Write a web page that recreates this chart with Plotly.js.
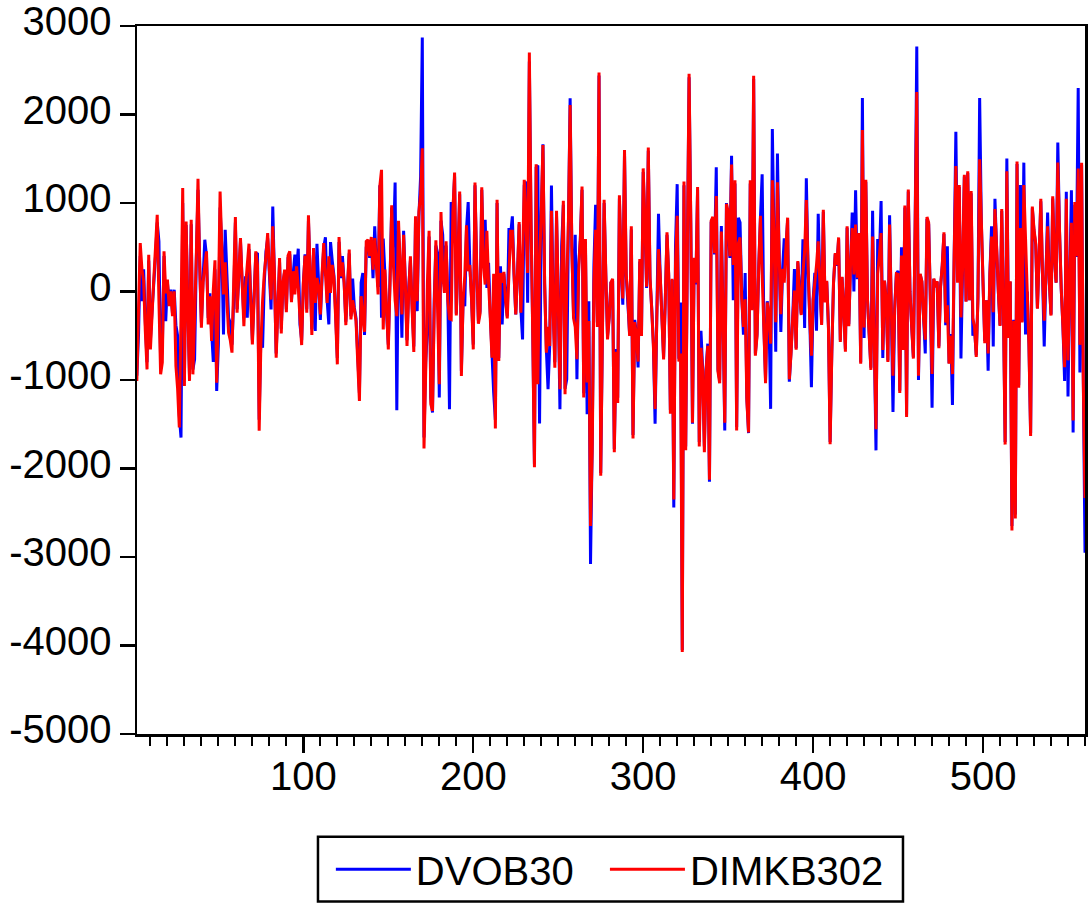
<!DOCTYPE html>
<html>
<head>
<meta charset="utf-8">
<script src="https://cdn.plot.ly/plotly-3.0.1.min.js"></script>
<style>html,body{margin:0;padding:0;background:#fff;overflow:hidden}</style>
</head>
<body>
<div id="chart" style="width:1089px;height:906px"></div>
<script>
const seriesNames = ["DVOB30", "DIMKB302"];
const seriesColors = ["#0000ff", "#ff0000"];
const yTicks = [3000, 2000, 1000, 0, -1000, -2000, -3000, -4000, -5000];

const dvob30 = [
-300,-950,-485,400,-109,250,-350,-800,350,-550,
-200,100,400,780,567,-800,-650,400,-335,100,
-120,20,-250,20,-380,-500,-1400,-1650,1000,-1000,
750,-150,-950,760,-880,-766,350,1150,300,-350,
150,585,400,-300,-20,-450,-797,250,-1123,-600,
950,500,-485,698,200,-300,-353,-600,-100,780,
-200,150,570,100,-300,172,-297,480,-50,-550,
-50,420,435,-1450,-500,-635,100,450,600,200,
-203,961,150,-700,-150,330,-420,80,230,-200,
380,420,-100,200,416,250,484,-372,-550,80,
420,-200,800,200,-430,450,-447,540,80,-320,
150,500,612,-100,-372,559,350,180,-250,-750,
560,150,400,100,-340,50,430,-280,146,-180,
-300,-720,-1150,100,210,-490,500,560,380,580,
150,736,300,50,1200,-297,597,200,-250,-600,
150,950,500,1232,-1341,700,250,-522,687,100,
-550,50,350,-150,-620,800,-222,850,1300,2870,
-1650,-800,-428,620,-1200,-1367,-100,520,435,-1198,
800,642,50,520,-50,-1330,1010,900,1300,-250,
380,1100,-900,-100,-166,700,1010,280,-80,-600,
1200,280,-330,-220,1150,300,811,41,323,-250,
-700,-1142,-1450,1000,-750,285,-372,200,-80,-280,
717,650,849,180,-259,190,760,-200,-541,1200,
1243,-128,2600,750,-450,-1950,1400,1423,-1491,850,
1664,80,-650,-1104,-600,1198,-180,-800,850,-80,
-1330,511,980,-1100,-992,750,2182,500,-250,642,
-992,300,580,1150,-1150,560,-1386,-109,-3080,-1700,
300,980,-350,2440,-2050,-450,1000,180,-500,-280,
100,120,-1780,-650,-1200,1050,280,-150,1560,180,
-150,-480,700,-1620,-320,-470,-859,340,-480,1350,
770,40,1590,140,-180,-590,-1495,-280,879,180,
-280,-740,-90,640,180,-1340,130,-2440,500,1213,
-760,-124,-4050,1200,-1750,480,2420,780,-1495,360,
80,1150,-1700,-444,-880,-1750,-880,-590,-2150,780,
820,420,1404,-880,-1000,740,-280,-1571,1000,723,
380,1533,-100,1220,-1530,834,780,-60,-489,210,
-1200,-1600,1220,-200,2400,-700,-480,280,830,1324,
-380,-1000,-110,-280,-1326,1836,580,-680,1560,380,
-458,240,600,480,810,-1020,-680,-280,255,-640,
330,10,-250,589,-413,1279,280,-280,-1081,-90,
210,-444,879,90,-360,900,-110,110,-380,-1700,
-680,90,420,290,590,-550,160,-190,-650,720,
-370,280,893,-1,1145,140,640,-800,2187,-525,
1240,-90,-480,-860,912,-580,-1795,594,380,1021,
-750,120,-90,-780,860,-190,-1360,-190,200,233,
-1120,500,-640,950,-1390,1130,-5,-390,-740,680,
2769,-1000,190,110,-290,-700,820,760,-100,-1314,
140,50,110,-620,55,290,650,-380,512,-810,
-480,-1283,380,1806,150,1180,-758,290,1300,-110,
1340,-100,1110,-500,-420,-720,-70,2187,780,90,
-560,-100,-894,190,738,-622,1048,480,0,-380,
910,-190,-1700,1503,-510,110,-2650,-320,-2520,1440,
-1060,1204,-340,1456,-486,0,-580,-1600,940,680,
530,-190,390,1020,190,-622,190,893,100,-260,
1050,390,100,1682,680,36,-390,-1011,1126,-1186,
90,1145,-1593,980,390,2299,-914,1430,-980,-2953
];

const dimkb302 = [
-300,-1010,-200,548,250,120,-450,-880,416,-654,
-250,150,500,867,-100,-936,-800,454,-20,135,
-165,3,-278,3,-842,-1100,-1537,-300,1168,-1067,
792,-200,-1010,811,-936,-300,400,1273,300,-410,
100,300,454,-372,-53,-560,20,353,-1030,-100,
1130,500,-34,330,-100,-466,-550,-691,100,841,
-240,200,604,100,-391,50,300,540,-100,-598,
-100,454,300,-1574,-600,-109,200,400,661,250,
-91,736,200,-748,-200,379,-474,100,247,-233,
405,454,-120,229,-34,285,50,-300,-605,100,
405,-240,860,200,-492,492,-128,153,60,-260,
200,548,200,-128,398,-15,300,150,-300,-823,
615,172,330,100,-380,50,473,-316,-100,-200,
-335,-800,-1236,-53,-300,-455,567,585,400,616,
248,604,300,-34,1187,1375,-428,248,-200,-654,
100,973,300,-100,-278,800,300,-259,642,100,
-616,0,398,-200,-684,849,-109,900,1100,1619,
-1773,-900,100,687,-1273,-1350,-200,578,-200,-1048,
897,200,-15,567,-100,-308,-316,900,1344,-271,
400,1130,-954,-100,173,747,229,300,-100,-654,
1232,300,-365,-250,1179,300,79,687,100,-300,
-748,200,-1548,1036,-785,210,100,221,-100,-304,
200,680,680,200,-259,200,785,-240,300,1262,
800,210,2700,800,-500,-1987,1438,-1048,300,900,
1656,100,-691,-400,-616,912,-200,-860,912,-100,
-1104,200,1025,-1161,100,800,2107,500,-300,-400,
-766,229,600,1187,-1198,593,-1029,-334,-2650,-1800,
100,698,-400,2475,-2081,-500,1036,200,-541,-300,
100,144,-1816,-680,-1259,1088,300,-79,1600,200,
-79,-502,736,-1660,-346,-500,-792,366,-502,1391,
800,55,1627,166,-200,-614,-1326,-300,478,200,
-300,-769,-100,669,200,-1380,144,-2350,300,856,
-792,-700,-4074,1244,-1794,500,2460,800,-1482,380,
99,1181,-1750,-636,-900,-1816,-900,-613,-2128,798,
843,433,1079,-903,-1037,678,-300,-1482,990,900,
400,1435,300,1257,-1571,544,611,-79,-400,-88,
-1237,-1593,1257,-213,2437,-725,-500,300,856,190,
-400,-1037,-124,-300,-590,1257,600,-346,1235,400,
-257,255,100,500,834,-992,-700,-300,10,-658,
344,0,-266,200,455,1034,300,-300,-725,-100,
100,300,567,100,-377,923,-124,121,-400,-1727,
-700,100,433,300,611,-569,166,-200,-680,736,
-391,300,718,193,757,155,660,-816,1825,-408,
1262,-100,-500,-886,621,-600,-1555,200,400,660,
-661,124,-100,-797,757,-200,-952,-200,200,194,
-1147,407,-661,971,-1419,1153,-5,-400,-758,699,
2253,-952,200,116,-300,-545,842,776,-100,-933,
147,50,116,-642,58,300,668,-350,-156,-816,
-500,-933,400,1417,100,1204,-292,300,1320,-117,
1359,-100,1134,-300,-400,-739,-78,1495,800,96,
-583,-100,-700,200,621,-234,932,500,0,-389,
932,-200,-1730,1359,-525,116,-2700,-331,-2565,1468,
-1088,718,-350,1204,600,0,-600,-1632,959,700,
543,-195,400,1048,200,-331,200,738,100,-272,
1075,400,100,1456,700,38,-400,-855,1048,-778,
100,776,-1457,1010,400,1390,-603,1456,-1000,-2332
];

const obs = dvob30.map((_, i) => i + 1);
const font = "Liberation Sans, Arial, Helvetica, sans-serif";
const fs = 40;
const legendBase = {
  orientation: "h", xref: "paper", yref: "paper",
  xanchor: "left", y: -0.145, yanchor: "top",
  bgcolor: "rgba(0,0,0,0)", borderwidth: 0,
  font: {family: font, size: fs, color: "#000"},
  itemwidth: 75
};

Plotly.newPlot("chart", [
  {x: obs, y: dvob30, name: seriesNames[0], type: "scatter", mode: "lines",
   legend: "legend",
   line: {color: seriesColors[0], width: 3, simplify: false}},
  {x: obs, y: dimkb302, name: seriesNames[1], type: "scatter", mode: "lines",
   legend: "legend2",
   line: {color: seriesColors[1], width: 3, simplify: false}}
], {
  width: 1089, height: 906,
  paper_bgcolor: "#fff", plot_bgcolor: "#fff",
  margin: {l: 137, r: 4, t: 26, b: 170, pad: 0},
  font: {family: font, size: fs, color: "#000"},
  showlegend: true,
  legend: Object.assign({}, legendBase, {x: 0.2045}),
  legend2: Object.assign({}, legendBase, {x: 0.4936}),
  shapes: [{type: "rect", xref: "paper", yref: "paper", layer: "above",
    x0: 0.1909, x1: 0.8080, y0: -0.1451, y1: -0.2366,
    line: {color: "#000", width: 2.5}, fillcolor: "rgba(0,0,0,0)"}],
  xaxis: {
    range: [2.1, 560], tick0: 0, dtick: 100,
    ticks: "outside", ticklen: 16, tickwidth: 2.3, tickcolor: "#000",
    ticklabelstandoff: -11,
    minor: {dtick: 10, tick0: 0, ticks: "outside", ticklen: 9, tickwidth: 2, tickcolor: "#000", showgrid: false},
    showline: true, linewidth: 2.5, linecolor: "#000", mirror: true,
    showgrid: false, zeroline: false,
    tickfont: {family: font, size: fs, color: "#000"}
  },
  yaxis: {
    range: [-5000, 3000], tickvals: yTicks, ticktext: yTicks.map(String),
    ticks: "outside", ticklen: 15, tickwidth: 2.3, tickcolor: "#000",
    ticklabelstandoff: 0, ticklabelshift: -5, ticklabeloverflow: "allow",
    showline: true, linewidth: 2.5, linecolor: "#000", mirror: true,
    showgrid: false, zeroline: false,
    tickfont: {family: font, size: fs, color: "#000"}
  }
}, {displayModeBar: false, staticPlot: true});
</script>
</body>
</html>
